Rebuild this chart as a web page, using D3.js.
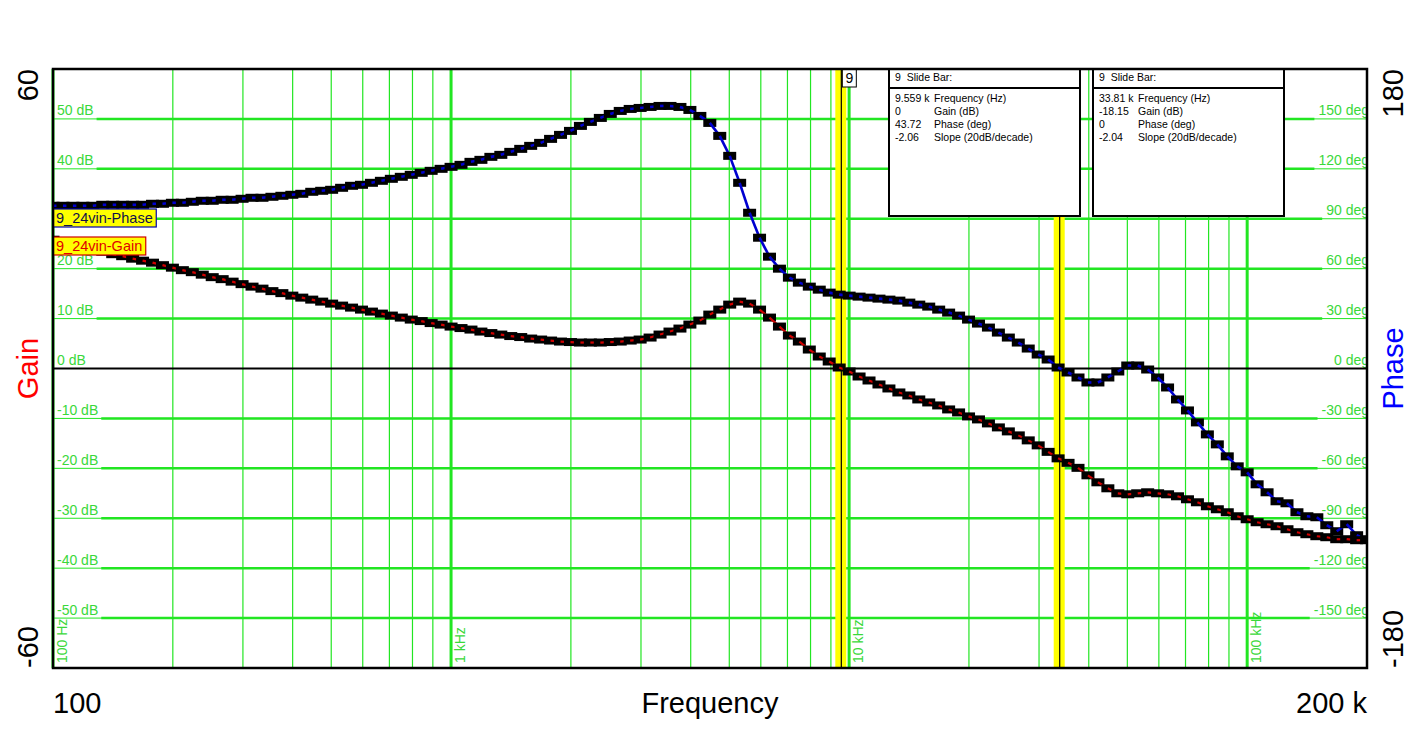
<!DOCTYPE html>
<html>
<head>
<meta charset="utf-8">
<script src="https://cdn.jsdelivr.net/npm/d3@7"></script>
<style>
body { margin: 0; background: #fff; }
text { font-family: "Liberation Sans", Arial, sans-serif; white-space: pre; }
</style>
</head>
<body>
<svg id="chart" width="1420" height="737"></svg>
<script>
// measured gain (dB) and phase (deg), 40 points per decade starting at 100 Hz
var gainDb = [
	25.8, 25.4, 24.9, 24.4, 23.9, 23.4, 22.9, 22.5, 22.0, 21.6,
	21.2, 20.7, 20.2, 19.7, 19.3, 18.8, 18.3, 17.9, 17.4, 16.9,
	16.4, 16.0, 15.5, 15.1, 14.6, 14.2, 13.8, 13.4, 13.0, 12.6,
	12.2, 11.8, 11.4, 11.0, 10.6, 10.2, 9.8, 9.5, 9.1, 8.8,
	8.4, 8.1, 7.8, 7.4, 7.1, 6.8, 6.5, 6.3, 6.0, 5.8,
	5.6, 5.4, 5.3, 5.2, 5.2, 5.2, 5.3, 5.4, 5.6, 5.8,
	6.2, 6.8, 7.4, 8.0, 8.8, 9.6, 10.8, 11.8, 12.8, 13.4,
	13.0, 11.8, 10.2, 8.4, 6.6, 5.4, 3.8, 2.4, 1.4, 0.2,
	-0.6, -1.6, -2.4, -3.2, -4.0, -4.8, -5.4, -6.2, -6.8, -7.4,
	-8.2, -8.8, -9.6, -10.2, -11.0, -11.8, -12.6, -13.4, -14.4, -15.4,
	-16.7, -18.0, -18.9, -19.9, -21.4, -22.8, -24.0, -25.0, -25.2, -25.0,
	-24.8, -25.0, -25.2, -25.6, -26.2, -26.8, -27.6, -28.2, -28.8, -29.6,
	-30.2, -30.8, -31.2, -31.6, -32.2, -32.8, -33.2, -33.6, -33.8, -34.2,
	-34.2, -34.4, -34.4
];
var phaseDeg = [
	97.8, 97.8, 97.8, 97.8, 97.8, 98.4, 98.4, 98.4, 98.4, 98.4,
	99.0, 99.0, 99.6, 99.6, 100.2, 100.8, 100.8, 101.4, 101.4, 102.0,
	102.6, 102.6, 103.2, 103.8, 104.4, 105.0, 106.2, 106.8, 107.4, 108.6,
	109.8, 110.4, 111.6, 112.8, 114.0, 115.2, 116.4, 117.6, 118.8, 120.0,
	121.2, 122.4, 124.2, 125.4, 127.2, 128.4, 130.2, 132.0, 133.8, 135.6,
	138.0, 140.4, 142.8, 145.8, 148.2, 150.6, 153.0, 154.8, 156.0, 156.6,
	157.2, 157.8, 157.8, 157.2, 155.4, 151.8, 147.6, 139.8, 127.8, 111.6,
	93.6, 78.6, 67.2, 60.0, 54.6, 51.6, 49.2, 47.4, 45.6, 44.4,
	43.8, 43.2, 42.6, 42.0, 41.4, 40.8, 39.6, 38.4, 37.2, 35.4,
	33.6, 31.8, 29.4, 27.0, 24.6, 21.6, 18.6, 15.6, 12.0, 8.4,
	5.4, 0.6, -2.4, -5.4, -8.4, -8.4, -5.4, -1.8, 1.8, 1.8,
	-0.6, -5.4, -11.4, -18.6, -25.2, -32.4, -39.6, -45.6, -52.8, -58.8,
	-62.4, -69.6, -74.4, -79.8, -81.0, -86.4, -88.8, -89.4, -94.2, -97.8,
	-93.6, -100.2, -102.6
];
var sweepStart = 100, pointsPerDecade = 40;
var freqHz = gainDb.map(function (d, i) { return sweepStart * Math.pow(10, i / pointsPerDecade); });

var gainTicks = [50, 40, 30, 20, 10, 0, -10, -20, -30, -40, -50];
var phaseTicks = [150, 120, 90, 60, 30, 0, -30, -60, -90, -120, -150];
var decadeHz = [100, 1000, 10000, 100000];
var decadeLabels = ['100 Hz', '1 kHz', '10 kHz', '100 kHz'];

var slideHz = [9559, 33810];
var slideNames = ['Frequency (Hz)', 'Gain (dB)', 'Phase (deg)', 'Slope (20dB/decade)'];
var slideValues = [
	['9.559 k', '0', '43.72', '-2.06'],
	['33.81 k', '-18.15', '0', '-2.04']
];

var svg = d3.select('#chart'),
	margin = { top: 69, right: 53, bottom: 69, left: 53 },
	width = +svg.attr('width') - margin.left - margin.right,
	height = +svg.attr('height') - margin.top - margin.bottom,
	g = svg.append('g').attr('transform', 'translate(' + margin.left + ',' + margin.top + ')');

var green = '#22e622', labelGreen = '#3ad83a';

var x = d3.scaleLog().domain([100, 200000]).range([0, width]);
var yGain = d3.scaleLinear().domain([-60, 60]).range([height, 0]);
var yPhase = d3.scaleLinear().domain([-180, 180]).range([height, 0]);

g.append('defs').append('clipPath')
	.attr('id', 'clip')
	.append('rect')
	.attr('width', width)
	.attr('height', height);

// vertical grid
g.append('g').selectAll('line')
	.data(x.ticks())
	.enter().append('line')
	.attr('x1', function (d) { return x(d); })
	.attr('x2', function (d) { return x(d); })
	.attr('y1', 0)
	.attr('y2', height)
	.attr('stroke', green)
	.attr('stroke-width', function (d) { return decadeHz.indexOf(d) >= 0 ? 3 : 1.2; });

g.append('g').selectAll('text')
	.data(decadeHz)
	.enter().append('text')
	.attr('transform', function (d) { return 'translate(' + (x(d) + 13.5) + ',' + (height - 5) + ') rotate(-90)'; })
	.attr('font-size', 14)
	.attr('fill', labelGreen)
	.text(function (d, i) { return decadeLabels[i]; });

// horizontal grid with labels on both sides
var gridG = g.append('g').attr('clip-path', 'url(#clip)');
gainTicks.forEach(function (v, i) {
	var yy = yGain(v);
	var lt = gridG.append('text')
		.attr('x', 4)
		.attr('y', yy - 3.5)
		.attr('font-size', 14)
		.attr('fill', labelGreen)
		.text(v + ' dB');
	var rt = gridG.append('text')
		.attr('x', width + 2)
		.attr('y', yy - 3.5)
		.attr('text-anchor', 'end')
		.attr('font-size', 14)
		.attr('fill', labelGreen)
		.text(phaseTicks[i] + ' deg');
	if (v === 0) return;
	var lw = lt.node().getComputedTextLength(), rw = rt.node().getComputedTextLength();
	gridG.insert('line', 'text')
		.attr('x1', 0).attr('x2', width)
		.attr('y1', yy).attr('y2', yy)
		.attr('stroke', green).attr('stroke-width', 1);
	gridG.insert('line', 'text')
		.attr('x1', lw + 7).attr('x2', width + 2 - rw - 4)
		.attr('y1', yy).attr('y2', yy)
		.attr('stroke', green).attr('stroke-width', 2.5);
});

g.append('line')
	.attr('x1', 0).attr('x2', width)
	.attr('y1', yGain(0)).attr('y2', yGain(0))
	.attr('stroke', '#000').attr('stroke-width', 2);

// slide bars
slideHz.forEach(function (f) {
	g.append('rect')
		.attr('x', x(f) - 6)
		.attr('y', 0)
		.attr('width', 11)
		.attr('height', height)
		.attr('fill', '#ffff00');
	g.append('line')
		.attr('x1', x(f)).attr('x2', x(f))
		.attr('y1', 0).attr('y2', height)
		.attr('stroke', '#000').attr('stroke-width', 1.2);
});

// traces: marker then segment to the next point, so each marker hides the line end
function drawTrace(vals, yScale, color, lw) {
	var tg = g.append('g').attr('clip-path', 'url(#clip)');
	vals.forEach(function (v, i) {
		if (i > 0) {
			tg.append('line')
				.attr('x1', x(freqHz[i - 1])).attr('y1', yScale(vals[i - 1]))
				.attr('x2', x(freqHz[i])).attr('y2', yScale(v))
				.attr('stroke', color).attr('stroke-width', lw);
		}
		tg.append('rect')
			.attr('x', x(freqHz[i]) - 6.5)
			.attr('y', yScale(v) - 4)
			.attr('width', 13)
			.attr('height', 8)
			.attr('fill', '#000');
	});
}
drawTrace(phaseDeg, yPhase, '#0000d0', 2.6);
drawTrace(gainDb, yGain, '#d00000', 2.2);

// trace names
function traceLabel(txt, top, color, textColor) {
	var lg = g.append('g');
	var r = lg.append('rect').attr('x', 0.5).attr('y', top).attr('height', 18)
		.attr('fill', '#ffff00').attr('stroke', color).attr('stroke-width', 1.2);
	var t = lg.append('text').attr('x', 3).attr('y', top + 14)
		.attr('font-size', 14.5).attr('fill', textColor).text(txt);
	r.attr('width', t.node().getComputedTextLength() + 6);
}
traceLabel('9_24vin-Phase', 140, '#0000b0', '#10104a');
traceLabel('9_24vin-Gain', 168, '#d00000', '#e00000');

// slide bar readout boxes
var boxX = [836, 1040];
slideValues.forEach(function (vals, b) {
	var bg = g.append('g').attr('transform', 'translate(' + boxX[b] + ',0)');
	bg.append('rect').attr('x', 0).attr('y', 0).attr('width', 191).attr('height', 147)
		.attr('fill', '#fff').attr('stroke', '#000').attr('stroke-width', 2);
	bg.append('line').attr('x1', 0).attr('x2', 191).attr('y1', 19).attr('y2', 19)
		.attr('stroke', '#000').attr('stroke-width', 2);
	bg.append('text').attr('x', 6).attr('y', 11.5).attr('font-size', 10.5).text('9  Slide Bar:');
	vals.forEach(function (v, i) {
		bg.append('text').attr('x', 6).attr('y', 32.5 + i * 13.2).attr('font-size', 10.5).text(v);
		bg.append('text').attr('x', 45).attr('y', 32.5 + i * 13.2).attr('font-size', 10.5).text(slideNames[i]);
	});
});

g.append('rect').attr('x', x(slideHz[0]) + 1).attr('y', 0).attr('width', 14).attr('height', 18)
	.attr('fill', '#fff').attr('stroke', '#000').attr('stroke-width', 1);
g.append('text').attr('x', x(slideHz[0]) + 8).attr('y', 14).attr('text-anchor', 'middle')
	.attr('font-size', 14).text('9');

// plot frame
g.append('rect').attr('width', width).attr('height', height)
	.attr('fill', 'none').attr('stroke', '#000').attr('stroke-width', 2.5);

// outer axis titles
var big = 29;
svg.append('text').attr('transform', 'translate(38,' + margin.top + ') rotate(-90)')
	.attr('text-anchor', 'end').attr('font-size', big).text('60');
svg.append('text').attr('transform', 'translate(38,' + (margin.top + height) + ') rotate(-90)')
	.attr('text-anchor', 'start').attr('font-size', big).text('-60');
svg.append('text').attr('transform', 'translate(38,' + (margin.top + height / 2) + ') rotate(-90)')
	.attr('text-anchor', 'middle').attr('font-size', big).attr('fill', '#ff0000').text('Gain');
svg.append('text').attr('transform', 'translate(1403,' + margin.top + ') rotate(-90)')
	.attr('text-anchor', 'end').attr('font-size', big).text('180');
svg.append('text').attr('transform', 'translate(1403,' + (margin.top + height) + ') rotate(-90)')
	.attr('text-anchor', 'start').attr('font-size', big).text('-180');
svg.append('text').attr('transform', 'translate(1403,' + (margin.top + height / 2) + ') rotate(-90)')
	.attr('text-anchor', 'middle').attr('font-size', big).attr('fill', '#0000ff').text('Phase');

svg.append('text').attr('x', margin.left).attr('y', 713).attr('font-size', big).text('100');
svg.append('text').attr('x', margin.left + width).attr('y', 713).attr('text-anchor', 'end')
	.attr('font-size', big).text('200 k');
svg.append('text').attr('x', 710).attr('y', 713).attr('text-anchor', 'middle')
	.attr('font-size', big).text('Frequency');
</script>
</body>
</html>
